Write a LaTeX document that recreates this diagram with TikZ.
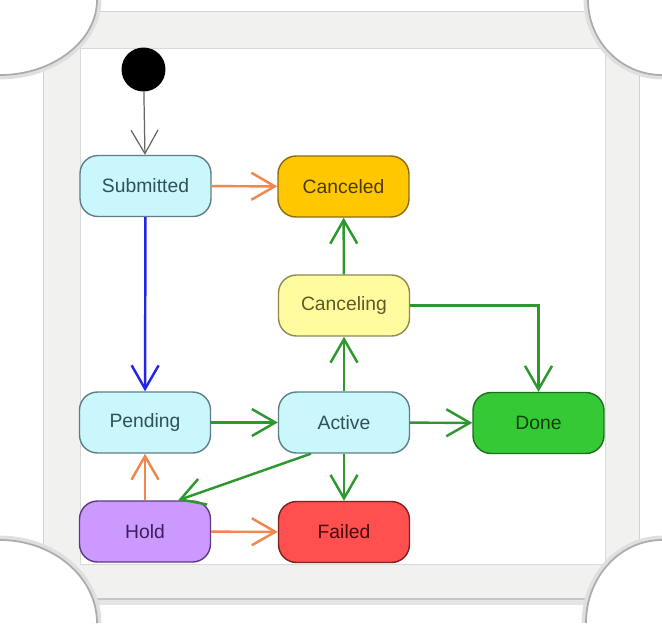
\documentclass[tikz,border=0pt]{standalone}
\usepackage{fontspec}
\setmainfont{Liberation Sans}
\usetikzlibrary{arrows.meta,calc}

\definecolor{framegray}{HTML}{F1F1EF}
\definecolor{cyanfill}{HTML}{C9F7FB}
\definecolor{cyanline}{HTML}{5E7F86}
\definecolor{cyantext}{HTML}{2F5158}
\definecolor{cancfill}{HTML}{FFC700}
\definecolor{cancline}{HTML}{8C6B12}
\definecolor{canctext}{HTML}{4D3A00}
\definecolor{cingfill}{HTML}{FFFB9E}
\definecolor{cingline}{HTML}{8C8A4F}
\definecolor{cingtext}{HTML}{5E5C23}
\definecolor{donefill}{HTML}{35C935}
\definecolor{doneline}{HTML}{1F6E1F}
\definecolor{donetext}{HTML}{0F3F0F}
\definecolor{holdfill}{HTML}{CC99FF}
\definecolor{holdline}{HTML}{5B3C80}
\definecolor{holdtext}{HTML}{3C1F61}
\definecolor{failfill}{HTML}{FF4F4F}
\definecolor{failline}{HTML}{7D2020}
\definecolor{failtext}{HTML}{4A0808}
\definecolor{trgreen}{HTML}{2E982E}
\definecolor{trorange}{HTML}{F0874F}
\definecolor{trblue}{HTML}{2525E6}

\begin{document}
\begin{tikzpicture}[x=0.02cm,y=-0.02cm,
    state/.style={draw,rounded corners=0.36cm,minimum width=2.62cm,minimum height=1.22cm,
                  line width=0.8pt,font=\fontsize{11}{13}\selectfont},
    tr/.style={line width=1.4pt,-{Straight Barb[length=4.7mm,width=5.4mm]}},
    curlshade/.style={gray!25,line width=5pt},
    curlline/.style={gray!65,line width=1pt}]
        \useasboundingbox (0,0) rectangle (662,623);
        \fill[framegray] (43,11) rectangle (639,598);
        \fill[white] (80,48) rectangle (605,564);
        \draw[gray!35,line width=0.5pt] (43,11) rectangle (639,598);
        \draw[gray!30,line width=0.5pt] (80,48) rectangle (605,564);
        \draw[gray!20,line width=4pt] (97,601) -- (587,601);
        \draw[gray!45,line width=1.2pt] (97,599) -- (587,599);
        \draw[curlshade] (97,0) .. controls (97,41) and (53,75) .. (0,75);
        \draw[curlshade] (588,0) .. controls (588,41) and (621,75) .. (662,75);
        \draw[curlshade] (0,540) .. controls (53,540) and (97,577) .. (97,623);
        \draw[curlshade] (662,540) .. controls (620,540) and (586,577) .. (586,623);
        \fill[white] (97,0) .. controls (97,41) and (53,75) .. (0,75) -- (0,0) -- cycle;
        \fill[white] (588,0) .. controls (588,41) and (621,75) .. (662,75) -- (662,0) -- cycle;
        \fill[white] (0,540) .. controls (53,540) and (97,577) .. (97,623) -- (0,623) -- cycle;
        \fill[white] (662,540) .. controls (620,540) and (586,577) .. (586,623) -- (662,623) -- cycle;
        \draw[curlline] (97,0) .. controls (97,41) and (53,75) .. (0,75);
        \draw[curlline] (588,0) .. controls (588,41) and (621,75) .. (662,75);
        \draw[curlline] (0,540) .. controls (53,540) and (97,577) .. (97,623);
        \draw[curlline] (662,540) .. controls (620,540) and (586,577) .. (586,623);

        \draw (143.5,69.5) node[circle,fill=black,minimum size=0.88cm,inner sep=0pt] (init) {};
        \draw (145.5,186)  node[state,fill=cyanfill,draw=cyanline,text=cyantext] (sub) {Submitted};
        \draw (343.5,186.5) node[state,fill=cancfill,draw=cancline,text=canctext] (canc) {Canceled};
        \draw (344,305.5)  node[state,fill=cingfill,draw=cingline,text=cingtext] (cing) {Canceling};
        \draw (145,422.5)  node[state,fill=cyanfill,draw=cyanline,text=cyantext] (pend) {Pending};
        \draw (344,422.5)  node[state,fill=cyanfill,draw=cyanline,text=cyantext] (act) {Active};
        \draw (538.5,423)  node[state,fill=donefill,draw=doneline,text=donetext] (done) {Done};
        \draw (145,531.5)  node[state,fill=holdfill,draw=holdline,text=holdtext] (hold) {Hold};
        \draw (344,532)    node[state,fill=failfill,draw=failline,text=failtext] (fail) {Failed};

        \draw[tr,gray!80!black,line width=0.7pt] (init) -- (sub);
        \draw[tr,trorange] (sub) -- (canc);
        \draw[tr,trblue] (sub) -- (pend);
        \draw[tr,trgreen] (pend) -- (act);
        \draw[tr,trgreen] (act) -- (done);
        \draw[tr,trgreen] (act) -- (cing);
        \draw[tr,trgreen] (cing) -- (canc);
        \draw[tr,trgreen] (cing.east) -| (done.north);
        \draw[tr,trgreen] ($(act.south)!.5!(act.south west)$) -- ($(hold.north)!.5!(hold.north east)$);
        \draw[tr,trgreen] (act) -- (fail);
        \draw[tr,trorange] (hold) -- (pend);
        \draw[tr,trorange] (hold) -- (fail);
    \end{tikzpicture}
\end{document}
